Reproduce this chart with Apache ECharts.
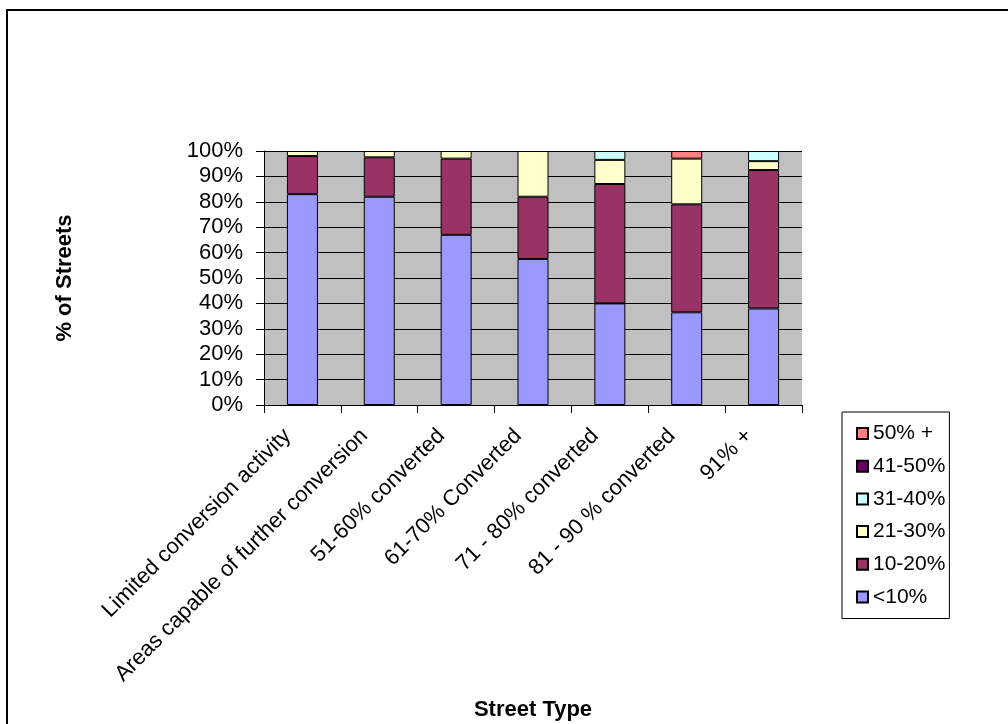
<!DOCTYPE html>
<html>
<head>
<meta charset="utf-8">
<script src="https://cdn.jsdelivr.net/npm/echarts@6/dist/echarts.min.js"></script>
<style>
  html, body { margin: 0; padding: 0; background: #fff; }
  #chart { width: 1008px; height: 724px; }
</style>
</head>
<body>
<div id="chart"></div>
<script>
// Street types (x categories)
const categories = [
  'Limited conversion activity',
  'Areas capable of further conversion',
  '51-60% converted',
  '61-70% Converted',
  '71 - 80% converted',
  '81 - 90 % converted',
  '91% +'
];

// Share of streets (%) in each conversion band, per street type
const lt10    = [83, 82, 67, 57.5, 40, 36.5, 38];
const b10_20  = [15, 15.5, 30, 24.5, 47, 42.5, 54.5];
const b21_30  = [2, 2.5, 3, 18, 9.5, 18, 3.5];
const b31_40  = [0, 0, 0, 0, 3.5, 0, 4];
const b41_50  = [0, 0, 0, 0, 0, 0, 0];
const b50plus = [0, 0, 0, 0, 0, 3, 0];

const yTicks = [0, 10, 20, 30, 40, 50, 60, 70, 80, 90, 100];

const FONT = '"Liberation Sans", Arial, sans-serif';

const bands = [
  { name: '<10%',   values: lt10,    color: '#9999FF' },
  { name: '10-20%', values: b10_20,  color: '#993366' },
  { name: '21-30%', values: b21_30,  color: '#FFFFCC' },
  { name: '31-40%', values: b31_40,  color: '#CCFFFF' },
  { name: '41-50%', values: b41_50,  color: '#660066' },
  { name: '50% +',  values: b50plus, color: '#FF8080' }
];

const chart = echarts.init(document.getElementById('chart'), null, { renderer: 'canvas' });

chart.setOption({
  animation: false,
  backgroundColor: '#ffffff',
  textStyle: { fontFamily: FONT, color: '#000' },
  graphic: [{
    type: 'rect',
    shape: { x: 7, y: 10, width: 1100, height: 800 },
    style: { fill: 'none', stroke: '#000', lineWidth: 2 },
    silent: true
  }],
  grid: {
    left: 264, top: 151, width: 538, height: 254,
    outerBoundsMode: 'none',
    containLabel: false,
    show: true, backgroundColor: '#C0C0C0', borderWidth: 0
  },
  legend: {
    orient: 'vertical',
    left: 842, top: 412,
    data: bands.map(b => b.name).reverse(),
    icon: 'rect',
    itemWidth: 11, itemHeight: 11,
    itemGap: 11.7,
    padding: [11, 4, 11, 14],
    borderColor: '#000', borderWidth: 1,
    textStyle: { fontFamily: FONT, fontSize: 21, color: '#000' },
    selectedMode: false
  },
  xAxis: {
    type: 'category',
    data: categories,
    boundaryGap: true,
    name: 'Street Type',
    nameLocation: 'middle',
    nameGap: 294,
    nameTextStyle: { fontFamily: FONT, fontSize: 22, fontWeight: 'bold', color: '#000' },
    axisLine: { lineStyle: { color: '#000', width: 1 } },
    axisTick: { show: true, interval: 0, length: 8, lineStyle: { color: '#000' } },
    axisLabel: {
      interval: 0, rotate: 45, margin: 12.6,
      padding: [0, 21, 0, 0],
      fontFamily: FONT, fontSize: 22, color: '#000'
    },
    splitLine: { show: false }
  },
  yAxis: {
    type: 'value',
    min: yTicks[0], max: yTicks[yTicks.length - 1], interval: yTicks[1] - yTicks[0],
    name: '% of Streets',
    nameLocation: 'middle',
    nameGap: 188,
    nameRotate: 90,
    nameTextStyle: { fontFamily: FONT, fontSize: 22, fontWeight: 'bold', color: '#000' },
    axisLine: { show: true, lineStyle: { color: '#000', width: 1 } },
    axisTick: { show: true, length: 8, lineStyle: { color: '#000' } },
    axisLabel: {
      formatter: '{value}%', margin: 21,
      fontFamily: FONT, fontSize: 22, color: '#000'
    },
    splitLine: { show: true, lineStyle: { color: '#000', width: 1 } }
  },
  series: bands.map(b => ({
    name: b.name,
    type: 'bar',
    stack: 'total',
    barWidth: 31,
    data: b.values.map(v => (v === 0 ? '-' : v)),
    itemStyle: { color: b.color, borderColor: '#000', borderWidth: 1 }
  }))
});
</script>
</body>
</html>
